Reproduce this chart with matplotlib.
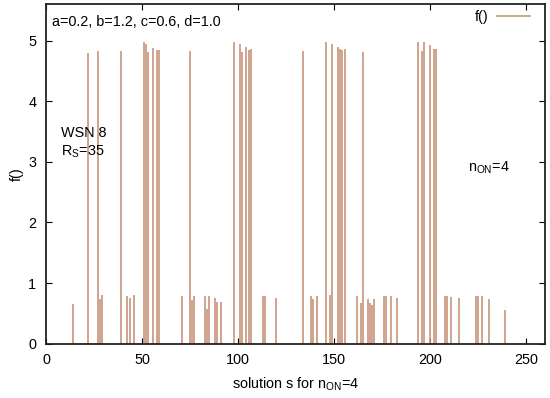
import matplotlib
matplotlib.use("Agg")
import matplotlib.pyplot as plt

plt.rcParams["font.family"] = ["Liberation Sans", "DejaVu Sans"]
plt.rcParams["mathtext.fontset"] = "custom"
plt.rcParams["mathtext.rm"] = "Liberation Sans"

# solution index s and f() value
solutions = [14, 22, 27, 28, 29, 39, 42, 44, 46, 51, 52, 53, 56, 58, 59,
             71, 75, 76, 77, 83, 84, 85, 88, 89, 91, 98, 101, 102, 104, 106, 107,
             113, 114, 120, 134, 138, 139, 141, 146, 148, 149, 152, 153, 154, 156,
             162, 164, 165, 168, 169, 170, 171, 176, 177, 180, 183,
             194, 196, 197, 200, 202, 203, 208, 209, 211, 215,
             224, 225, 227, 231, 239]
f_values = [0.65, 4.80, 4.83, 0.74, 0.80, 4.83, 0.79, 0.75, 0.80, 4.98, 4.95, 4.82, 4.88, 4.85, 4.84,
            0.79, 4.83, 0.72, 0.79, 0.79, 0.57, 0.78, 0.75, 0.68, 0.69, 4.98, 4.95, 4.81, 4.90, 4.84, 4.87,
            0.79, 0.79, 0.75, 4.83, 0.79, 0.74, 0.79, 4.98, 0.80, 4.95, 4.90, 4.86, 4.85, 4.87,
            0.78, 0.67, 4.82, 0.73, 0.67, 0.64, 0.73, 0.79, 0.79, 0.78, 0.76,
            4.98, 4.83, 4.98, 4.93, 4.87, 4.86, 0.79, 0.79, 0.77, 0.76,
            0.79, 0.79, 0.78, 0.74, 0.55]

x_ticks = [0, 50, 100, 150, 200, 250]
y_ticks = [0, 1, 2, 3, 4, 5]

fig = plt.figure(figsize=(5.5, 3.98), dpi=100)
ax = fig.add_axes([0.0836, 0.1364, 0.9074, 0.8528])

ax.vlines(solutions, 0, f_values, color="#c8957c", linewidth=1.2, label="f()")

ax.set_xlim(0, 260)
ax.set_ylim(0, 5.6)
ax.set_xticks(x_ticks)
ax.set_yticks(y_ticks)
ax.tick_params(direction="in", top=True, right=True, length=4, width=0.8,
               labelsize=10.4, pad=7)
for sp in ax.spines.values():
    sp.set_linewidth(1.3)
    sp.set_color("#222222")

ax.set_xlabel("solution s for n$_{\\mathrm{ON}}$=4", fontsize=10.4, labelpad=6)
ax.set_ylabel("f()", fontsize=10.4, labelpad=3)

ax.text(3, 5.3, "a=0.2, b=1.2, c=0.6, d=1.0", fontsize=10.4, va="center")
ax.text(8, 3.47, "WSN 8", fontsize=10.4, va="center")
ax.text(8, 3.16, "R$_\\mathrm{S}$=35", fontsize=10.4, va="center")
ax.text(220, 2.9, "n$_{\\mathrm{ON}}$=4", fontsize=10.4, va="center")

leg = ax.legend(loc="upper right", bbox_to_anchor=(1.0, 1.027), frameon=False,
                fontsize=10.4, markerfirst=False, handlelength=2.4,
                handletextpad=0.5, borderaxespad=0.6)
for line in leg.get_lines():
    line.set_color("#b8a080")

fig.savefig("out.png", dpi=100)
